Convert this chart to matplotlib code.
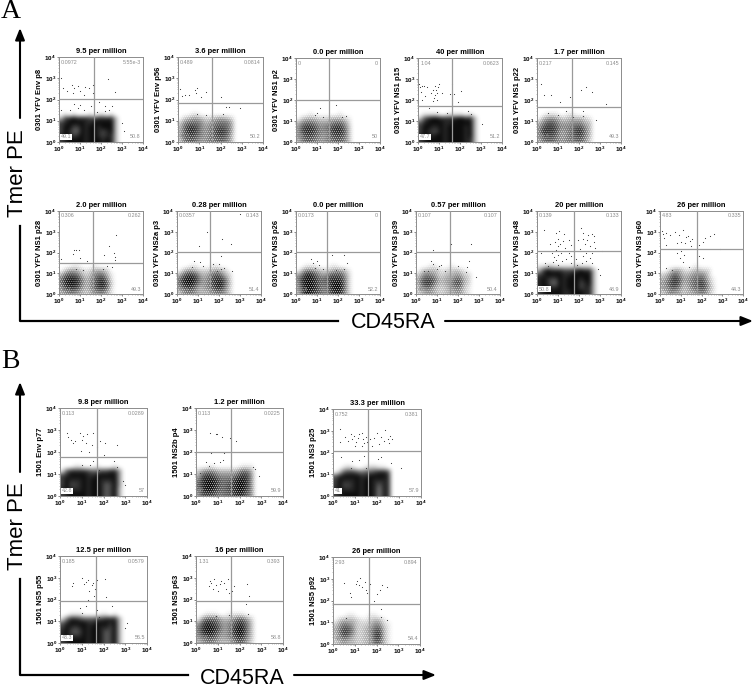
import numpy as np
import matplotlib
matplotlib.use("Agg")
import matplotlib.pyplot as plt
from matplotlib.patches import Rectangle

plt.rcParams['font.family'] = ['Liberation Sans', 'DejaVu Sans']
plt.rcParams['mathtext.fontset'] = 'custom'
plt.rcParams['mathtext.bf'] = 'Liberation Sans:bold'
plt.rcParams['hatch.linewidth'] = 0.3

W, H = 754, 687

titles = ["9.5 per million", "3.6 per million", "0.0 per million", "40 per million", "1.7 per million",
          "2.0 per million", "0.28 per million", "0.0 per million", "0.57 per million", "20 per million", "26 per million",
          "9.8 per million", "1.2 per million", "33.3 per million",
          "12.5 per million", "16 per million", "26 per million"]
ylabels = ["0301 YFV Env p8", "0301 YFV Env p56", "0301 YFV NS1 p2", "0301 YFV NS1 p15", "0301 YFV NS1 p22",
           "0301 YFV NS1 p28", "0301 YFV NS2a p3", "0301 YFV NS3 p26", "0301 YFV NS3 p39", "0301 YFV NS3 p48", "0301 YFV NS3 p60",
           "1501 Env p77", "1501 NS2b p4", "1501 NS3 p25",
           "1501 NS5 p55", "1501 NS5 p63", "1501 NS5 p92"]
# quadrant percentages: upper left, upper right, lower left, lower right
q_ul = ["0.0972", "0.489", "0", "1.04", "0.217", "0.306", "0.0357", "0.0173", "0.107", "0.139", "4.83",
        "0.113", "0.113", "0.752", "0.185", "1.31", "2.93"]
q_ur = ["5.55e-3", "0.0814", "0", "0.0623", "0.145", "0.262", "0.143", "0", "0.107", "0.133", "0.335",
        "0.0289", "0.0225", "0.381", "0.0579", "0.393", "0.894"]
q_ll = ["49.1", "49.3", "50", "47.7", "50.3", "50.1", "48.4", "47.8", "49.4", "50.8", "50.7",
        "42.8", "40", "41", "43.3", "39.5", "42"]
q_lr = ["50.8", "50.2", "50", "51.2", "49.3", "49.3", "51.4", "52.2", "50.4", "48.9", "44.3",
        "57", "59.9", "57.9", "56.5", "58.8", "54.4"]
# gate positions in decades
gate_x = [1.67, 1.6, 1.57, 1.62, 1.65, 1.6, 1.57, 1.48, 1.62, 1.76, 1.78, 1.7, 1.6, 1.6, 1.65, 1.6, 1.64]
gate_y = [2.02, 1.83, 2.0, 1.7, 1.68, 1.5, 2.02, 2.02, 2.02, 2.07, 2.15, 1.78, 2.0, 2.05, 1.93, 1.93, 1.83]

# panel boxes in pixels: left, right, top, bottom
boxes = [(59, 143, 57, 142), (178, 263, 57, 142), (296, 380, 58, 142), (418, 502, 58, 142), (537, 621, 58, 142),
         (59, 143, 211, 294), (177, 261, 211, 294), (296, 380, 211, 294), (416, 500, 211, 294), (537, 621, 211, 294), (660, 743, 211, 294),
         (60, 147, 408, 496), (196, 283, 408, 496), (333, 421, 409, 496),
         (60, 147, 556, 643), (196, 283, 556, 643), (333, 420, 557, 644)]

# event density of the lower gates, read by eye: 0 white .. 9 black
# rows run from 10^1.5 down to 10^0.1, columns from 10^0.1 to 10^2.9
grid_a1 = ["000000000000000", "010100010110100", "378988877888830", "789999889999930",
           "799779899899930", "798669899878930", "899789899878830", "789999899989830"]
grid_a2 = ["000000000000000", "000110000000000", "023443223443200", "256665345666400",
           "368875456776400", "368875456887400", "367765456776300", "256654455665300"]
grid_a3 = ["000000000000000", "000100000010000", "023332223332100", "356654445665200",
           "478875567886300", "478875557887300", "467765456776300", "356654455665300"]
grid_a4 = ["000000000000000", "011110011110100", "268998888998830", "689999889999930",
           "799889899998930", "798779899998930", "899899899998930", "789999899998830"]
grid_a5 = ["000000000000000", "001110011000000", "034543233332100", "357764445553300",
           "478875556775300", "488874456885300", "477764456775300", "356654455664200"]
grid_a6 = ["000000000000000", "000110001000000", "024432123432000", "367763235663100",
           "589985346885100", "589985346896200", "478874346886100", "345543234553100"]
grid_a7 = ["000000000000000", "000110001100000", "024432223432000", "368874346763200",
           "589985457886200", "589975457896300", "467753456885200", "245543334554200"]
grid_a8 = ["000000000000000", "001110001100000", "035543223443100", "469975457775200",
           "589986678886200", "489986668996200", "479986568996200", "369876557885200"]
grid_a9 = ["000000000000000", "000110001000000", "023332122321000", "246542233442200",
           "367763344663200", "378853345773200", "246532234552100", "234432233442100"]
grid_a10 = ["000000000000000", "112211111211100", "379888777898830", "789999889999930",
            "898779899989930", "898669899978930", "899889899978830", "789999889998830"]
grid_a11 = ["000000000000000", "000000001000000", "002442123322000", "235753345552000",
            "346874456763100", "457873456874100", "346753356774200", "235442334553100"]
grid_b1 = ["000000000000000", "000110001000100", "168888766778840", "789999889999940",
           "798889899888940", "797789899867940", "898889899867930", "789999899867930"]
grid_b2 = ["000000000000000", "000100000011100", "245543333466400", "378865555788500",
           "589986667998500", "689986677998500", "589976677997500", "477765667886500"]
grid_b3 = ["000000000000000", "001210012211000", "026776566788700", "689999889999800",
           "798889899888800", "797789899868800", "898889899858800", "789999899858800"]
grid_b4 = ["000000000000000", "001110000110100", "158876667788830", "689999889998930",
           "798789899887930", "897679899867930", "898889899867930", "789999899867930"]
grid_b5 = ["000000000000000", "001110011110000", "046664334664200", "479875456886300",
           "589986457996300", "589975457996300", "467764456885300", "345543334664200"]
grid_b6 = ["000000000000000", "000110001100000", "023332112331000", "246542223552100",
           "357752234673100", "358752234783100", "246532233783100", "234332233663100"]
grids = [grid_a1, grid_a2, grid_a3, grid_a4, grid_a5, grid_a6, grid_a7, grid_a8, grid_a9, grid_a10, grid_a11,
         grid_b1, grid_b2, grid_b3, grid_b4, grid_b5, grid_b6]

# single events outside the dense part, log10 (x, y)
pts_a1 = [(.08, 3.0), (.2, 2.55), (.4, 2.4), (.6, 2.7), (.65, 2.3), (.7, 2.55), (.9, 2.65), (1.0, 2.4), (1.2, 2.2), (1.25, 2.6),
          (1.45, 2.55), (1.6, 2.3), (1.6, 2.7), (2.33, 2.97), (2.65, 2.33), (.7, 1.8), (.9, 1.6), (1.0, 1.75), (1.2, 1.5),
          (1.5, 1.7), (1.9, 1.9), (2.2, 1.7), (2.4, 1.5), (2.5, 1.7), (.5, 1.5), (1.8, 1.4), (2.2, 1.45), (3.0, .9), (3.1, .5), (.1, 1.5)]
pts_a2 = [(.1, 2.5), (.2, 2.15), (.35, 2.2), (.5, 2.2), (.8, 2.45), (.9, 2.55), (.85, 2.3), (1.1, 2.1), (1.3, 2.35), (2.0, 2.1),
          (2.25, 1.65), (2.4, 1.65), (2.9, 1.6), (.9, 1.3), (1.3, 1.25), (2.1, 1.3)]
pts_a3 = [(1.15, 1.6), (1.0, 1.4), (1.9, 1.75), (.9, 1.3), (1.3, 1.2), (2.4, 1.25), (2.2, 1.2)]
pts_a4 = [(.05, 2.75), (.1, 2.6), (.15, 2.4), (.2, 2.65), (.3, 2.65), (.35, 2.2), (.45, 2.6), (.6, 2.35), (.7, 2.5), (.8, 2.65),
          (.75, 2.1), (.8, 2.25), (.85, 2.5), (.9, 2.35), (.95, 2.6), (1.0, 2.75), (.9, 2.0), (.7, 1.95), (1.15, 2.35), (1.5, 2.3),
          (1.6, 2.75), (1.7, 2.3), (2.05, 2.45), (1.9, 1.9), (.2, 2.0), (.5, 1.6), (.9, 1.45), (1.4, 1.4), (2.4, 1.5), (2.5, 1.35), (3.05, .85)]
pts_a5 = [(.2, 2.75), (.35, 2.25), (.65, 2.25), (1.1, 1.9), (1.55, 2.15), (2.1, 2.5), (2.35, 2.6), (2.6, 2.4), (3.3, 1.8),
          (.5, 1.4), (1.0, 1.3), (1.4, 1.5), (1.6, 1.65), (2.2, 1.5), (2.8, 1.05), (1.7, 1.2), (2.2, 1.25)]
pts_a6 = [(.1, 1.7), (.65, 1.95), (.7, 2.1), (.8, 2.1), (.95, 2.1), (1.0, 1.75), (2.15, 1.9), (2.4, 2.3), (2.6, 2.0), (2.65, 1.65),
          (2.65, 1.8), (2.7, 2.85), (1.35, 1.6), (.8, 1.2), (1.15, 1.15), (2.1, 1.2), (2.3, 1.35), (2.5, 1.3)]
pts_a7 = [(1.45, 3.0), (1.05, 2.3), (2.15, 2.65), (2.55, 2.4), (3.0, 3.85), (2.1, 1.85), (.8, 1.6), (1.1, 1.55), (1.25, 1.35),
          (1.7, 1.45), (2.0, 1.45), (2.25, 1.25), (.7, 1.3), (2.1, 1.2), (2.6, 1.1), (1.9, 1.1)]
pts_a8 = [(.7, 1.7), (1.1, 1.4), (.8, 1.5), (.9, 1.25), (1.3, 1.2), (1.7, 1.9), (2.3, 1.9), (2.45, 1.5), (1.0, 1.6), (1.9, 1.15), (2.3, 1.2)]
pts_a9 = [(.8, 2.1), (1.65, 2.4), (2.6, 2.4), (.7, 1.6), (.8, 1.45), (1.1, 1.35), (1.2, 1.4), (2.0, 1.35), (2.5, 1.6), (2.45, 1.3),
          (.4, 1.1), (.55, 1.1), (1.0, 1.2), (1.4, 1.1), (2.4, 1.05), (2.85, .8)]
pts_a10 = [(.35, 3.1), (.6, 2.4), (.9, 2.95), (1.1, 2.4), (1.0, 2.65), (1.05, 3.05), (1.3, 2.9), (1.5, 2.6), (.7, 2.0), (.9, 2.1),
           (1.0, 2.3), (.85, 2.5), (1.15, 2.0), (1.35, 2.2), (1.5, 2.0), (1.6, 2.35), (1.25, 2.55), (.8, 1.8), (1.0, 1.9), (.9, 1.65), (.75, 1.55),
           (1.2, 1.6), (1.4, 1.7), (1.6, 1.85), (1.85, 1.7), (1.95, 2.6), (2.05, 2.15), (2.1, 3.2), (2.3, 2.4), (2.4, 2.6), (2.5, 2.3), (2.6, 2.9),
           (2.6, 2.0), (2.7, 2.5), (2.7, 2.8), (2.2, 2.65), (2.35, 2.0), (2.2, 1.85), (2.5, 1.75), (2.75, 2.2), (2.35, 1.6), (2.15, 1.5), (2.6, 1.5),
           (3.1, 2.05), (.2, 2.0), (.4, 1.5), (1.0, 1.4), (1.9, 1.4), (1.6, 1.5), (2.9, 1.2), (3.0, .9), (.5, 1.35), (2.2, 2.95), (2.45, 2.85)]
pts_a11 = [(.1, 3.05), (.15, 2.9), (.2, 2.7), (.3, 2.95), (.5, 2.85), (.7, 3.0), (.9, 2.85), (1.1, 3.1), (1.25, 2.75), (1.35, 2.8),
           (.8, 2.45), (1.0, 2.5), (1.2, 2.45), (1.45, 2.55), (1.5, 2.3), (.3, 2.35), (.8, 2.0), (1.0, 2.05), (1.15, 1.9), (1.55, 2.65),
           (1.9, 2.35), (2.05, 2.5), (2.15, 2.7), (2.4, 2.8), (2.6, 2.9), (2.9, 2.15), (.95, 1.75), (1.1, 1.55), (.3, 1.25), (1.4, 1.3), (1.9, 1.85), (2.05, 1.75), (.6, 1.15)]
pts_b1 = [(.3, 2.85), (.35, 2.7), (.5, 2.55), (.6, 2.4), (.7, 2.5), (.9, 2.85), (1.0, 2.55), (1.05, 2.75), (1.25, 2.8), (1.5, 2.85),
          (1.2, 2.4), (1.45, 2.3), (1.7, 2.25), (1.85, 2.5), (2.05, 2.4), (2.6, 2.3), (.95, 2.05), (1.35, 2.0), (2.0, 1.85), (1.5, 1.6),
          (1.4, 1.4), (1.0, 1.4), (2.5, 1.6), (2.6, 1.3), (1.8, 1.2), (2.9, .7), (3.0, .5)]
pts_b2 = [(.65, 2.85), (.9, 2.8), (.95, 2.8), (1.2, 2.7), (1.55, 2.65), (1.85, 2.5), (.7, 1.95), (.45, 1.55), (.85, 1.5), (1.1, 1.55),
          (1.25, 1.65), (1.3, 1.95), (.6, 1.35), (2.6, 1.3), (2.7, 1.25), (2.9, .9), (.2, 1.05)]
pts_b3 = [(.3, 3.1), (.3, 2.5), (.55, 2.7), (.7, 2.55), (.8, 2.85), (.85, 2.6), (.95, 2.75), (1.05, 2.5), (1.15, 2.65), (1.2, 2.85),
          (1.3, 2.9), (1.35, 2.6), (1.4, 2.45), (1.5, 2.7), (1.55, 2.5), (1.6, 2.8), (1.7, 2.6), (1.75, 2.3), (1.85, 2.65), (2.0, 2.9),
          (2.1, 2.4), (2.2, 2.7), (2.3, 2.55), (2.35, 3.05), (2.5, 2.6), (2.55, 2.45), (2.6, 2.75), (2.7, 2.6), (1.0, 2.3), (1.3, 2.3),
          (.35, 1.8), (.85, 1.6), (1.2, 1.65), (1.4, 1.85), (2.05, 1.7), (2.2, 1.8), (2.65, 1.5), (3.1, 1.3), (.8, 1.3), (1.5, 1.3)]
pts_b4 = [(.55, 2.6), (.6, 2.75), (1.0, 3.0), (1.1, 2.7), (1.2, 2.8), (1.3, 2.9), (1.45, 2.65), (1.5, 2.75), (1.6, 2.5), (1.7, 2.9),
          (1.35, 2.4), (2.05, 2.95), (1.3, 2.0), (1.55, 2.15), (2.1, 2.1), (.9, 1.6), (1.0, 1.4), (1.2, 1.7), (1.7, 1.5), (2.4, 1.7), (1.8, 1.2),
          (3.0, .7), (3.1, .9)]
pts_b5 = [(.6, 2.6), (.65, 2.85), (.8, 2.5), (.85, 2.95), (.9, 2.65), (1.1, 2.7), (1.15, 2.85), (1.0, 2.4), (1.3, 2.75), (1.4, 2.5), (1.45, 2.95),
          (1.6, 2.9), (1.65, 2.4), (1.75, 2.6), (1.5, 2.3), (.7, 2.75), (2.35, 2.7), (2.45, 2.15), (2.3, 1.8), (1.5, 1.3), (.9, 1.25), (2.4, 1.35), (1.6, 2.15)]
pts_b6 = [(.5, 2.8), (1.05, 2.75), (1.1, 2.9), (1.2, 2.7), (1.25, 3.05), (1.45, 2.85), (1.35, 2.6), (1.5, 2.5), (1.65, 2.55), (1.55, 2.35),
          (1.7, 2.75), (.8, 2.35), (.85, 2.15), (2.0, 2.3), (2.15, 2.5), (2.25, 2.7), (2.5, 2.6), (1.9, 2.0), (1.55, 1.85), (2.2, 1.6), (.6, 1.2), (2.2, 1.25), (2.5, 1.1)]
points = [pts_a1, pts_a2, pts_a3, pts_a4, pts_a5, pts_a6, pts_a7, pts_a8, pts_a9, pts_a10, pts_a11,
          pts_b1, pts_b2, pts_b3, pts_b4, pts_b5, pts_b6]

dense = [0, 3, 9, 11, 13, 14]
GREY = "#8c8c8c"

fig = plt.figure(figsize=(W / 100, H / 100), dpi=100)

# overlay in pixel coordinates for the arrows and the big letters
bg = fig.add_axes([0, 0, 1, 1])
bg.set_xlim(0, W)
bg.set_ylim(H, 0)
bg.axis("off")


def arrow(x0, y0, x1, y1):
    bg.annotate("", xy=(x1, y1), xytext=(x0, y0),
                arrowprops=dict(arrowstyle="-|>,head_width=0.28,head_length=0.7", color="k", lw=1.5,
                                shrinkA=0, shrinkB=0, mutation_scale=10))


def line(x, y):
    bg.plot(x, y, color="k", lw=1.6, solid_capstyle="projecting")


# panel A frame
arrow(20, 118, 20, 28)
line([20, 20, 338], [226, 321, 321])
arrow(445, 321, 753, 321)
bg.text(18, 173, "Tmer PE", rotation=90, fontsize=16, ha="center", va="center")
bg.text(393, 323, "CD45RA", fontsize=15.5, ha="center", va="center")
bg.text(11, 11, "A", family="Liberation Serif", fontsize=20, ha="center", va="center")

# panel B frame
arrow(20, 472, 20, 382)
line([20, 20, 188], [579, 675, 675])
arrow(294, 675, 436, 675)
bg.text(18, 526, "Tmer PE", rotation=90, fontsize=16, ha="center", va="center")
bg.text(242, 678, "CD45RA", fontsize=15.5, ha="center", va="center")
bg.text(10, 362, "B", family="Liberation Serif", fontsize=20, ha="center", va="center")

minor = np.log10(np.arange(2, 10))
minor = np.concatenate([minor + d for d in range(4)])
tick_labels = [r"$\mathbf{10^{%d}}$" % d for d in range(5)]

for i, (l, r, t, b) in enumerate(boxes):
    ax = fig.add_axes([l / W, 1 - b / H, (r - l) / W, (b - t) / H])
    dens = np.array([[int(c) for c in row] for row in grids[i]], dtype=float)
    ax.imshow(1 - dens / 9 * 0.95, cmap="gray", vmin=0, vmax=1, extent=(0, 3, 0, 1.6),
              aspect="auto", interpolation="bicubic", zorder=1)
    if i not in dense:
        # speckle of the thin populations
        ax.add_patch(Rectangle((0, 0), 3, 1.6, fc="none", ec="white", lw=0, hatch="........", zorder=1.5))
    xs = [p[0] for p in points[i]]
    ys = [p[1] for p in points[i]]
    ax.plot(xs, ys, "s", color="#444444", ms=0.75, mew=0, zorder=2)
    ax.axvline(gate_x[i], color="#9a9a9a", lw=0.9, zorder=3)
    ax.axhline(gate_y[i], color="#9a9a9a", lw=0.9, zorder=3)
    ax.set_xlim(0, 4)
    ax.set_ylim(0, 4)
    ax.set_xticks(range(5))
    ax.set_yticks(range(5))
    ax.set_xticklabels(tick_labels)
    ax.set_yticklabels(tick_labels)
    ax.set_xticks(minor, minor=True)
    ax.set_yticks(minor, minor=True)
    ax.tick_params(which="major", length=1.4, width=0.4, labelsize=4.5, pad=0.8, color="#333333")
    ax.tick_params(which="minor", length=0.7, width=0.3, color="#555555")
    for s in ax.spines.values():
        s.set_color(GREY)
        s.set_linewidth(0.7)
    ax.set_title(titles[i], fontsize=5.4, fontweight="bold", pad=2.6)
    ax.set_ylabel(ylabels[i], fontsize=5.5, fontweight="bold")
    ax.yaxis.set_label_coords(-16 / (r - l), 0.5)
    box = dict(fc="white", ec="none", pad=0.6) if i in dense else None
    ax.text(0.025, 0.97, q_ul[i], transform=ax.transAxes, fontsize=3.9, color=GREY, va="top", ha="left", zorder=4)
    ax.text(0.975, 0.97, q_ur[i], transform=ax.transAxes, fontsize=3.9, color=GREY, va="top", ha="right", zorder=4)
    ax.text(0.025, 0.03, q_ll[i], transform=ax.transAxes, fontsize=3.9, color=GREY, va="bottom", ha="left", bbox=box, zorder=4)
    ax.text(0.975, 0.03, q_lr[i], transform=ax.transAxes, fontsize=3.9, color=GREY, va="bottom", ha="right", zorder=4)

fig.savefig("out.png", dpi=100)
